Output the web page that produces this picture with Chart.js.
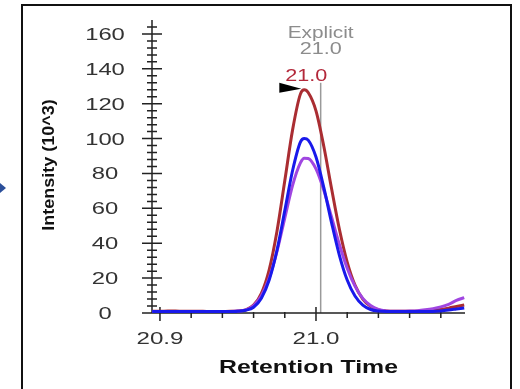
<!DOCTYPE html>
<html lang="en">
<head>
    <title>Chromatogram</title>
    <script src="https://cdn.jsdelivr.net/npm/chart.js"></script>
    <style>
        body { margin: 0; background: #fff; }
        canvas { display: block; }
    </style>
</head>
<body>
    <canvas id="myChart" width="520" height="389"></canvas>

    <script>
        // retention times (min) and intensities (10^3)
        const TIMES = [20.895, 20.900, 20.905, 20.910, 20.915, 20.920, 20.925, 20.930, 20.935, 20.940,
                       20.945, 20.950, 20.955, 20.960, 20.965, 20.970, 20.975, 20.980, 20.985, 20.990,
                       20.9925, 20.995, 21.000, 21.005, 21.010, 21.015, 21.020, 21.025, 21.030, 21.035,
                       21.040, 21.045, 21.050, 21.055, 21.060, 21.065, 21.070, 21.075, 21.080, 21.085,
                       21.090, 21.095];
        const RED = [1.0, 1.0, 1.1, 1.1, 1.0, 1.0, 1.0, 0.9, 0.9, 0.9,
                     1.0, 1.2, 1.8, 4.5, 11.3, 24.8, 46.9, 75.8, 105, 125.5,
                     128, 126.4, 115.9, 95.6, 71.2, 48, 29.2, 16, 8, 3.8,
                     1.8, 1.2, 1.0, 1.0, 1.0, 1.0, 1.1, 1.4, 2.0, 2.8,
                     3.7, 4.6];
        const BLUE = [0.8, 0.8, 0.8, 0.8, 0.8, 0.8, 0.8, 0.8, 0.8, 0.8,
                      0.8, 1.0, 1.6, 3.3, 8.5, 18.9, 36, 58.7, 81.7, 98,
                      100, 99.1, 89.4, 72, 51.7, 33.1, 18.9, 9.7, 4.5, 2.0,
                      1.1, 0.9, 0.9, 0.9, 0.9, 0.9, 0.9, 0.9, 1.2, 1.7,
                      2.3, 2.9];
        const PURPLE = [0.9, 0.9, 0.9, 0.9, 0.9, 0.9, 0.9, 0.9, 0.9, 0.9,
                        0.9, 1.1, 1.8, 4.3, 9.9, 20, 35.3, 54.4, 73.2, 86.1,
                        88.8, 88.6, 82.6, 70.4, 54.9, 39.3, 25.7, 15.4, 8.4, 4.3,
                        2.1, 1.2, 1.0, 1.0, 1.1, 1.3, 1.8, 2.5, 3.5, 5.0,
                        7.2, 8.8];

        const Y_TICKS = [0, 20, 40, 60, 80, 100, 120, 140, 160];
        const Y_MINOR_STEP = 4;
        const X_TICKS = [20.9, 21.0];
        const X_MINOR = [20.92, 20.94, 20.96, 20.98, 21.02, 21.04, 21.06, 21.08];

        const EXPLICIT_TIME = 21.003;
        const PEAK_TIME = 20.9925;
        const PEAK_HEIGHT = 128;

        const FONT = '"Liberation Sans", Arial, sans-serif';

        // the original screenshot is stretched sideways, so text is drawn wide
        function wideText(ctx, text, x, y, sx, font, color) {
            ctx.save();
            ctx.translate(x, y);
            ctx.scale(sx, 1);
            ctx.font = font;
            ctx.fillStyle = color;
            ctx.textAlign = "center";
            ctx.textBaseline = "alphabetic";
            ctx.fillText(text, 0, 0);
            ctx.restore();
        }

        const axesPlugin = {
            id: "axes",
            beforeDatasetsDraw(chart) {
                const ctx = chart.ctx;
                const area = chart.chartArea;
                const xs = chart.scales.x, ys = chart.scales.y;
                const y0 = ys.getPixelForValue(0);

                // frame around the panel
                ctx.save();
                ctx.strokeStyle = "#111";
                ctx.lineWidth = 2;
                ctx.strokeRect(22, 5, 489, 420);

                // little arrow on the far left
                ctx.fillStyle = "#2b4f9a";
                ctx.beginPath();
                ctx.moveTo(0, 183);
                ctx.lineTo(6, 188);
                ctx.lineTo(0, 193);
                ctx.fill();

                // explicit retention time marker
                const ex = xs.getPixelForValue(EXPLICIT_TIME);
                ctx.strokeStyle = "#9a9a9a";
                ctx.lineWidth = 1.5;
                ctx.beginPath();
                ctx.moveTo(ex, ys.getPixelForValue(132));
                ctx.lineTo(ex, y0);
                ctx.stroke();

                // axes
                ctx.strokeStyle = "#222";
                ctx.lineWidth = 1.5;
                ctx.beginPath();
                ctx.moveTo(area.left, area.top);
                ctx.lineTo(area.left, y0);
                ctx.moveTo(area.left - 10, y0);
                ctx.lineTo(area.right, y0);

                for (let v = 0; v <= 164; v += Y_MINOR_STEP) {
                    const py = ys.getPixelForValue(v);
                    const len = Y_TICKS.includes(v) ? 10 : 5;
                    ctx.moveTo(area.left - len, py);
                    ctx.lineTo(area.left + len, py);
                }
                X_TICKS.forEach(v => {
                    const px = xs.getPixelForValue(v);
                    ctx.moveTo(px, y0 - 6);
                    ctx.lineTo(px, y0 + 8);
                });
                X_MINOR.forEach(v => {
                    const px = xs.getPixelForValue(v);
                    ctx.moveTo(px, y0 - 1);
                    ctx.lineTo(px, y0 + 5);
                });
                ctx.stroke();

                // tick labels
                Y_TICKS.forEach(v => {
                    wideText(ctx, String(v), 105, ys.getPixelForValue(v) + 6, 1.4, "17px " + FONT, "#333");
                });
                X_TICKS.forEach(v => {
                    wideText(ctx, v.toFixed(1), xs.getPixelForValue(v), 344, 1.42, "17px " + FONT, "#333");
                });

                // axis titles
                wideText(ctx, "Retention Time", (area.left + area.right) / 2, 373, 1.38, "bold 18px " + FONT, "#111");

                ctx.translate(50, 165);
                ctx.rotate(-Math.PI / 2);
                ctx.scale(1, 0.88);
                ctx.font = "bold 18px " + FONT;
                ctx.fillStyle = "#111";
                ctx.textAlign = "center";
                ctx.textBaseline = "middle";
                ctx.fillText("Intensity (10^3)", 0, 0);
                ctx.restore();
            },
            afterDatasetsDraw(chart) {
                const ctx = chart.ctx;
                const xs = chart.scales.x, ys = chart.scales.y;
                const ex = xs.getPixelForValue(EXPLICIT_TIME);
                const px = xs.getPixelForValue(PEAK_TIME);
                const py = ys.getPixelForValue(PEAK_HEIGHT);

                wideText(ctx, "Explicit", ex, 38, 1.3, "16px " + FONT, "#8c8c8c");
                wideText(ctx, "21.0", ex, 54, 1.35, "16px " + FONT, "#8c8c8c");
                wideText(ctx, "21.0", px + 2, py - 9, 1.35, "16px " + FONT, "#b3283a");

                // peak flag
                ctx.save();
                ctx.fillStyle = "#000";
                ctx.beginPath();
                ctx.moveTo(px - 25, py - 7);
                ctx.lineTo(px - 3, py - 1);
                ctx.lineTo(px - 25, py + 3);
                ctx.closePath();
                ctx.fill();
                ctx.restore();
            }
        };

        function series(values) {
            return TIMES.map((t, i) => ({ x: t, y: values[i] }));
        }

        function createChart() {
            const ctx = document.getElementById("myChart").getContext("2d");
            new Chart(ctx, {
                type: "line",
                data: {
                    datasets: [
                        { label: "blue", data: series(BLUE), borderColor: "rgb(25, 25, 235)" },
                        { label: "purple", data: series(PURPLE), borderColor: "rgb(160, 70, 225)" },
                        { label: "red", data: series(RED), borderColor: "rgb(170, 45, 50)" }
                    ]
                },
                options: {
                    responsive: false,
                    animation: false,
                    devicePixelRatio: 1,
                    layout: {
                        padding: { left: 152, top: 20, right: 55, bottom: 76 }
                    },
                    elements: {
                        point: { radius: 0 },
                        line: { borderWidth: 3, cubicInterpolationMode: "monotone" }
                    },
                    plugins: {
                        legend: { display: false },
                        tooltip: { enabled: false }
                    },
                    scales: {
                        x: { type: "linear", display: false, min: 20.8949, max: 21.0955 },
                        y: { display: false, min: 0, max: 168 }
                    }
                },
                plugins: [axesPlugin]
            });
        }

        createChart();
    </script>
</body>
</html>
